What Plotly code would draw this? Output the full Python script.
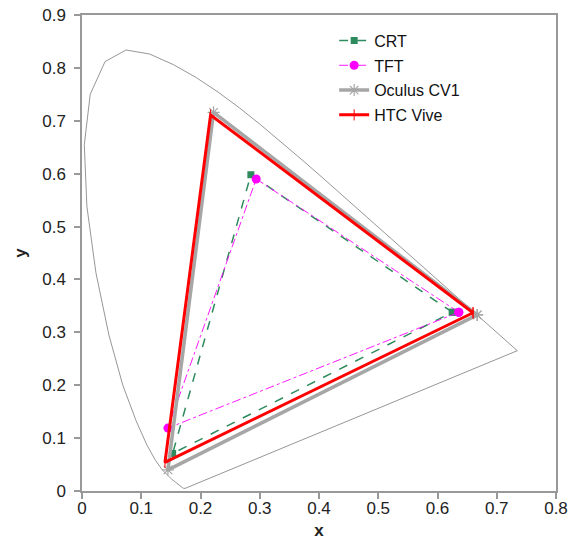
import plotly.graph_objects as go

# CIE 1931 spectral locus (5 nm steps, 380-700 nm) + line of purples
locus_x = [0.1741, 0.1740, 0.1738, 0.1736, 0.1733, 0.1730, 0.1726, 0.1721, 0.1714, 0.1703,
           0.1689, 0.1669, 0.1644, 0.1611, 0.1566, 0.1510, 0.1440, 0.1355, 0.1241, 0.1096,
           0.0913, 0.0687, 0.0454, 0.0235, 0.0082, 0.0039, 0.0139, 0.0389, 0.0743, 0.1142,
           0.1547, 0.1929, 0.2296, 0.2658, 0.3016, 0.3373, 0.3731, 0.4087, 0.4441, 0.4788,
           0.5125, 0.5448, 0.5752, 0.6029, 0.6270, 0.6482, 0.6658, 0.6801, 0.6915, 0.7006,
           0.7079, 0.7140, 0.7190, 0.7230, 0.7260, 0.7283, 0.7300, 0.7311, 0.7320, 0.7327,
           0.7334, 0.7340, 0.7344, 0.7346, 0.7347, 0.1741]
locus_y = [0.0050, 0.0050, 0.0049, 0.0049, 0.0048, 0.0048, 0.0048, 0.0048, 0.0051, 0.0058,
           0.0069, 0.0086, 0.0109, 0.0138, 0.0177, 0.0227, 0.0297, 0.0399, 0.0578, 0.0868,
           0.1327, 0.2007, 0.2950, 0.4127, 0.5384, 0.6548, 0.7502, 0.8120, 0.8338, 0.8262,
           0.8059, 0.7816, 0.7543, 0.7243, 0.6923, 0.6589, 0.6245, 0.5896, 0.5547, 0.5202,
           0.4866, 0.4544, 0.4242, 0.3965, 0.3725, 0.3514, 0.3340, 0.3197, 0.3083, 0.2993,
           0.2920, 0.2859, 0.2809, 0.2770, 0.2740, 0.2717, 0.2700, 0.2689, 0.2680, 0.2673,
           0.2666, 0.2660, 0.2656, 0.2654, 0.2653, 0.0050]

# Display primaries (R, G, B, back to R)
crt_x = [0.625, 0.285, 0.153, 0.625]
crt_y = [0.338, 0.598, 0.071, 0.338]
tft_x = [0.636, 0.294, 0.145, 0.636]
tft_y = [0.338, 0.590, 0.119, 0.338]
oculus_x = [0.667, 0.222, 0.145, 0.667]
oculus_y = [0.333, 0.716, 0.040, 0.333]
vive_x = [0.660, 0.217, 0.140, 0.660]
vive_y = [0.337, 0.711, 0.054, 0.337]

x_ticks = [0, 0.1, 0.2, 0.3, 0.4, 0.5, 0.6, 0.7, 0.8]
x_ticktext = ["0", "0.1", "0.2", "0.3", "0.4", "0.5", "0.6", "0.7", "0.8"]
y_ticks = [0, 0.1, 0.2, 0.3, 0.4, 0.5, 0.6, 0.7, 0.8, 0.9]
y_ticktext = ["0", "0.1", "0.2", "0.3", "0.4", "0.5", "0.6", "0.7", "0.8", "0.9"]

FONT = "Liberation Sans, Arial"

fig = go.Figure()
fig.add_trace(go.Scatter(x=locus_x, y=locus_y, mode="lines", showlegend=False,
                         line=dict(color="#8a8a8a", width=0.9), hoverinfo="skip"))
fig.add_trace(go.Scatter(x=crt_x, y=crt_y, mode="lines+markers", name="CRT", legendgroup="a",
                         line=dict(color="#2e8b5e", width=1.5, dash="dash"),
                         marker=dict(symbol="square", size=7, color="#2e8b5e")))
fig.add_trace(go.Scatter(x=tft_x, y=tft_y, mode="lines+markers", name="TFT", legendgroup="b",
                         line=dict(color="#ff00ff", width=0.9, dash="dashdot"),
                         marker=dict(symbol="circle", size=9, color="#ff00ff")))
fig.add_trace(go.Scatter(x=oculus_x, y=oculus_y, mode="lines+markers", name="Oculus CV1", legendgroup="c",
                         line=dict(color="#a6a6a6", width=3.5),
                         marker=dict(symbol="asterisk-open", size=10, color="#a6a6a6",
                                     line=dict(color="#a6a6a6", width=1.2))))
fig.add_trace(go.Scatter(x=vive_x, y=vive_y, mode="lines+markers", name="HTC Vive", legendgroup="d",
                         line=dict(color="#ff0000", width=3),
                         marker=dict(symbol="line-ns", size=8, color="#ff0000",
                                     line=dict(color="#ff0000", width=1))))

axis_common = dict(showgrid=False, zeroline=False, showline=True, mirror=True,
                   linecolor="#999999", linewidth=1.5, ticks="outside", ticklen=6,
                   tickcolor="#999999", tickwidth=1.5, automargin=False,
                   tickfont=dict(family=FONT, size=17, color="#222222"))

fig.update_layout(
    width=579, height=540,
    margin=dict(l=82, r=23, t=15, b=49),
    paper_bgcolor="white", plot_bgcolor="white",
    xaxis=dict(range=[0, 0.8], tickvals=x_ticks, ticktext=x_ticktext, ticklabelstandoff=-5,
               title=dict(text="<b>x</b>", standoff=13,
                          font=dict(family=FONT, size=17, color="#222222")),
               **axis_common),
    yaxis=dict(range=[0, 0.9], tickvals=y_ticks, ticktext=y_ticktext, ticklabelstandoff=5,
               title=dict(text="<b>y</b>", standoff=11,
                          font=dict(family=FONT, size=17, color="#222222")),
               **axis_common),
    legend=dict(x=0.532, y=0.982, xanchor="left", yanchor="top",
                bgcolor="rgba(255,255,255,0)", tracegroupgap=1,
                font=dict(family=FONT, size=16, color="#111111")),
)

fig.write_html("out.html")
